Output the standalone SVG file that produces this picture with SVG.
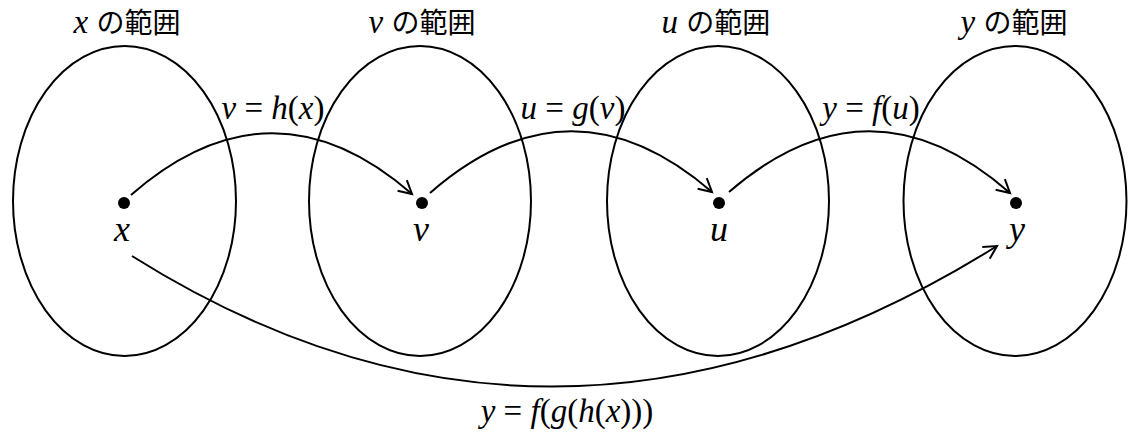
<svg xmlns="http://www.w3.org/2000/svg" width="1142" height="439" viewBox="0 0 1142 439">
<defs>
<style>
.ell{fill:none;stroke:#000;stroke-width:2}
.con{fill:none;stroke:#000;stroke-width:2}
.dot{fill:#000}
.t{font-family:"Liberation Serif","Noto Sans CJK JP",serif;font-size:33px;fill:#000}
.n{font-size:36px}
.i{font-style:italic}
.jp{font-family:"Noto Sans CJK JP",sans-serif;font-size:28px}
</style>
<marker id="arr" markerWidth="30" markerHeight="30" refX="0" refY="0" viewBox="-15 -15 30 30" orient="auto" markerUnits="userSpaceOnUse">
<path d="M-13,-7 L0,0 L-13,7" fill="none" stroke="#000" stroke-width="2"/>
</marker>
</defs>
<rect width="1142" height="439" fill="#fff"/>
<g id="node-x">
<ellipse class="ell" cx="124.5" cy="201" rx="111.5" ry="155"/>
<circle class="dot" cx="124" cy="203" r="6"/>
<text class="t n i" x="122" y="241" text-anchor="middle">x</text>
<text class="t" x="127" y="33" text-anchor="middle"><tspan class="i">x</tspan> <tspan class="jp">の範囲</tspan></text>
</g>
<g id="node-v">
<ellipse class="ell" cx="420" cy="201" rx="111" ry="155"/>
<circle class="dot" cx="422" cy="203" r="6"/>
<text class="t n i" x="421" y="241" text-anchor="middle">v</text>
<text class="t" x="422" y="33" text-anchor="middle"><tspan class="i">v</tspan> <tspan class="jp">の範囲</tspan></text>
</g>
<g id="node-u">
<ellipse class="ell" cx="718" cy="201" rx="111" ry="155"/>
<circle class="dot" cx="719" cy="203" r="6"/>
<text class="t n i" x="719" y="241" text-anchor="middle">u</text>
<text class="t" x="716" y="33" text-anchor="middle"><tspan class="i">u</tspan> <tspan class="jp">の範囲</tspan></text>
</g>
<g id="node-y">
<ellipse class="ell" cx="1015" cy="201" rx="111.5" ry="155"/>
<circle class="dot" cx="1016" cy="203" r="6"/>
<text class="t n i" x="1017" y="241" text-anchor="middle">y</text>
<text class="t" x="1014" y="33" text-anchor="middle"><tspan class="i">y</tspan> <tspan class="jp">の範囲</tspan></text>
</g>
<g id="connectors">
<path class="con" d="M131,195 Q272,72 412,194" marker-end="url(#arr)"/>
<path class="con" d="M430,193 Q571,70 712,192" marker-end="url(#arr)"/>
<path class="con" d="M729,192 Q870,70 1010,193" marker-end="url(#arr)"/>
<path class="con" d="M132,256 Q555,522 997,246" marker-end="url(#arr)"/>
<text class="t" x="273" y="119" text-anchor="middle"><tspan class="i">v</tspan> = <tspan class="i">h</tspan>(<tspan class="i">x</tspan>)</text>
<text class="t" x="573" y="119" text-anchor="middle"><tspan class="i">u</tspan> = <tspan class="i">g</tspan>(<tspan class="i">v</tspan>)</text>
<text class="t" x="871" y="119" text-anchor="middle"><tspan class="i">y</tspan> = <tspan class="i">f</tspan>(<tspan class="i">u</tspan>)</text>
<text class="t" x="567" y="422" text-anchor="middle"><tspan class="i">y</tspan> = <tspan class="i">f</tspan>(<tspan class="i">g</tspan>(<tspan class="i">h</tspan>(<tspan class="i">x</tspan>)))</text>
</g>
</svg>
